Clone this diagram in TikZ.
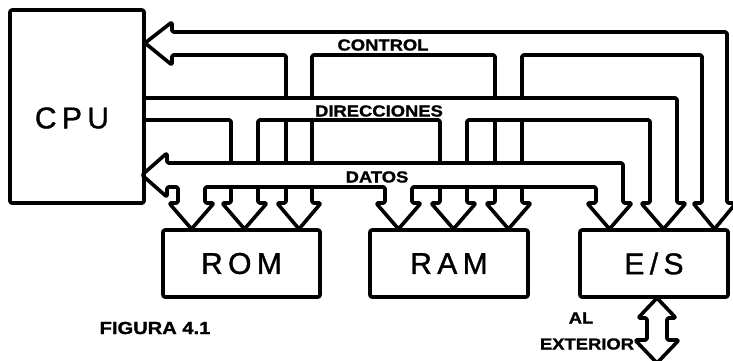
\documentclass[tikz,border=0pt]{standalone}
\usepackage{fontspec}
\setmainfont{Liberation Sans}
\newfontfamily\modfont[LetterSpace=18,FakeBold=1.2]{Liberation Sans}
\newfontfamily\busfont[FakeStretch=1.15,FakeBold=1.2]{Liberation Sans}
\usetikzlibrary{positioning}

\begin{document}
\begin{tikzpicture}[x=1pt,y=-1pt,line width=3.6pt,line join=round,line cap=round,
    caja/.style={draw,rectangle,rounded corners=2pt,outer sep=0pt,minimum height=67pt,
      font=\modfont\fontsize{30}{30}\selectfont},
    bus/.style={draw,rounded corners=1.5pt},
    rotulo/.style={inner sep=0pt,font=\busfont\bfseries\fontsize{16}{16}\selectfont}]
  \useasboundingbox (0,0) rectangle (733,360);
  \fill[white] (0,0) rectangle (733,360);

  % bloques
  \node[caja,minimum width=134pt,minimum height=193pt] (cpu) at (77,106.5) {};
  \node[font=\modfont\fontsize{30}{30}\selectfont] (cputxt) at (72,118) {CPU};
  \node[caja,minimum width=157pt] (rom) at (241.5,263.5) {ROM};
  \node[caja,minimum width=158pt,right=50pt of rom] (ram) {RAM};
  \node[caja,minimum width=148pt,right=52pt of ram] (es) {E/S};

  % bus de control
  \draw[bus] (727,195) -- (727,32) -- (172,32) -- (172,22) -- (145,43) -- (172,65)
    -- (172,55) -- (286,55) -- (286,98);
  \draw[bus] (312,98) -- (312,55) -- (495,55) -- (495,98);
  \draw[bus] (522,98) -- (522,55) -- (702,55) -- (702,195);
  \draw[bus] (286,120) -- (286,163) (312,120) -- (312,163)
    (495,120) -- (495,163) (522,120) -- (522,163);

  % bus de direcciones
  \draw[bus] (145,98) -- (677,98) -- (677,195);
  \draw[bus] (145,120) -- (231,120) -- (231,163);
  \draw[bus] (258,163) -- (258,120) -- (440,120) -- (440,163);
  \draw[bus] (467,163) -- (467,120) -- (650,120) -- (650,195);

  % bus de datos
  \draw[bus] (623,195) -- (623,163) -- (167,163) -- (167,153) -- (142,175) -- (167,197)
    -- (167,187) -- (178,187) -- (178,195);
  \draw[bus] (205,195) -- (205,187) -- (385,187) -- (385,195);
  \draw[bus] (412,195) -- (412,187) -- (596,187) -- (596,195);

  % puntas hacia los bloques
  \foreach \xl/\xr/\ys in {178/205/195, 231/258/187, 286/312/187, 385/412/195, 440/467/187,
      495/522/187, 596/623/195, 650/677/195, 702/727/195}
    \draw[bus] (\xl,\ys) -- (\xl,203) -- (\xl-9,203) -- ({(\xl+\xr)/2},229)
      -- (\xr+9,203) -- (\xr,203) -- (\xr,\ys);

  % al exterior
  \draw[bus] (657,298) -- (676,318) -- (667,318) -- (667,340) -- (679,340) -- (657,363)
    -- (635,340) -- (647,340) -- (647,318) -- (638,318) -- cycle;

  % rotulos
  \node[rotulo] (lcontrol) at (383,45) {CONTROL};
  \node[rotulo] (ldir) at (379,111) {DIRECCIONES};
  \node[rotulo] (ldatos) at (377,177) {DATOS};
  \node[rotulo] (lal) at (581,318) {AL};
  \node[rotulo] (lext) at (587,344) {EXTERIOR};
  \node[rotulo,font=\busfont\bfseries\fontsize{17.5}{17.5}\selectfont] (lfig) at (155,328) {FIGURA 4.1};
\end{tikzpicture}
\end{document}
